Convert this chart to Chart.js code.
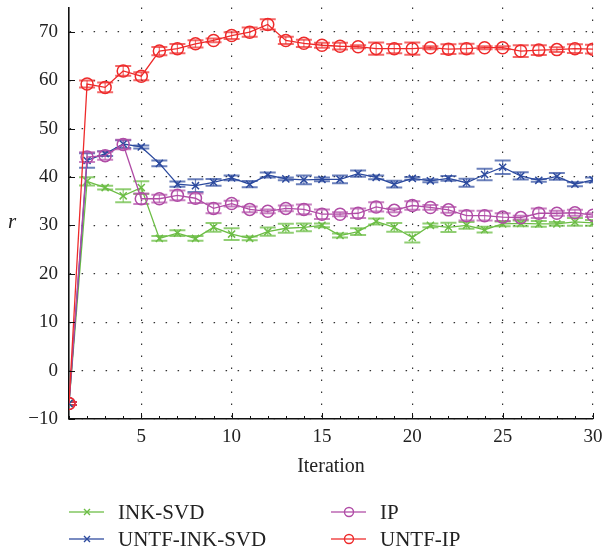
<!DOCTYPE html>
<html>
<head>
<meta charset="utf-8">
<script src="https://cdn.jsdelivr.net/npm/chart.js@4.4.0/dist/chart.umd.min.js"></script>
<style>
    body { margin: 0; background: #fff; }
    #wrap { position: relative; width: 602px; height: 554px; font-family: 'Liberation Serif', serif; color: #222; }
    #grafico { position: absolute; left: 0; top: 0; }
    #tituloY { position: absolute; left: 8px; top: 209px; font-style: italic; font-size: 21px; }
    .leg { position: absolute; display: flex; align-items: center; font-size: 21px; line-height: 24px; white-space: nowrap; }
    .leg svg { margin-right: 14px; }
</style>
</head>
<body>
<div id="wrap">
    <canvas id="grafico" width="602" height="554"></canvas>
    <span id="tituloY">r</span>
    <div id="legenda"></div>
</div>
<script>
var iteracoes = [1, 2, 3, 4, 5, 6, 7, 8, 9, 10, 11, 12, 13, 14, 15, 16, 17, 18, 19, 20, 21, 22, 23, 24, 25, 26, 27, 28, 29, 30];

var inkSvd = [-6.8, 39.1, 37.8, 36.1, 37.8, 27.3, 28.4, 27.3, 29.6, 28.2, 27.3, 28.7, 29.4, 29.6, 30.0,
              27.9, 28.7, 30.8, 29.6, 27.5, 30.0, 29.6, 30.0, 29.1, 30.3, 30.4, 30.3, 30.3, 30.7, 30.5];
var inkSvdErro = [0.3, 0.85, 0.4, 1.35, 1.3, 0.5, 0.6, 0.5, 0.9, 1.2, 0.4, 0.85, 0.95, 0.8, 0.4,
                  0.4, 0.7, 0.6, 0.9, 1.05, 0.4, 0.95, 0.7, 0.6, 0.5, 0.6, 0.6, 0.4, 0.8, 0.6];

var untfInkSvd = [-6.8, 43.4, 44.8, 46.8, 46.2, 42.8, 38.5, 38.2, 38.9, 39.8, 38.5, 40.4, 39.6, 39.4, 39.5,
                  39.5, 40.7, 39.9, 38.5, 39.7, 39.2, 39.7, 38.8, 40.5, 42.0, 40.2, 39.3, 40.1, 38.5, 39.4];
var untfInkSvdErro = [0.3, 1.5, 0.5, 0.8, 0.3, 0.6, 0.55, 1.3, 0.7, 0.5, 0.65, 0.5, 0.3, 0.9, 0.4,
                      0.8, 0.65, 0.4, 0.7, 0.3, 0.3, 0.5, 0.85, 1.2, 1.4, 0.75, 0.3, 0.7, 0.4, 0.5];

var ip = [-6.8, 44.1, 44.4, 46.7, 35.5, 35.5, 36.2, 35.6, 33.5, 34.5, 33.3, 32.9, 33.5, 33.3, 32.3,
          32.3, 32.5, 33.8, 33.1, 34.1, 33.7, 33.2, 32.0, 32.0, 31.7, 31.6, 32.5, 32.5, 32.6, 32.1];
var ipErro = [0.3, 1.0, 0.85, 1.0, 1.1, 0.8, 1.0, 1.0, 1.0, 0.6, 0.6, 0.4, 0.6, 1.0, 1.0,
              0.4, 1.0, 0.95, 0.4, 0.9, 0.5, 0.6, 1.0, 1.0, 0.8, 0.4, 1.0, 0.5, 0.6, 0.4];

var untfIp = [-6.8, 59.2, 58.5, 61.9, 60.8, 66.0, 66.5, 67.5, 68.2, 69.2, 69.9, 71.5, 68.2, 67.6, 67.2,
              67.0, 66.9, 66.5, 66.5, 66.5, 66.7, 66.4, 66.5, 66.7, 66.7, 66.0, 66.2, 66.3, 66.5, 66.4];
var untfIpErro = [0.3, 0.7, 1.0, 1.0, 0.85, 0.85, 0.95, 0.75, 0.4, 0.7, 0.95, 1.05, 0.75, 0.75, 0.5,
                  0.7, 0.3, 1.25, 0.95, 1.25, 0.3, 1.0, 1.0, 0.3, 0.3, 1.2, 1.0, 0.5, 0.9, 0.9];

var ticksX = [5, 10, 15, 20, 25, 30];
var ticksY = [-10, 0, 10, 20, 30, 40, 50, 60, 70];

function pontos(valores) {
    return iteracoes.map(function (it, i) { return { x: it, y: valores[i] }; });
}

function serie(nome, valores, erros, cor, corErro, marcador, raio) {
    return {
        label: nome,
        data: pontos(valores),
        erros: erros,
        corErro: corErro,
        borderColor: cor,
        borderWidth: 1.3,
        tension: 0,
        pointStyle: marcador,
        pointRadius: raio,
        pointHoverRadius: raio,
        pointBorderWidth: 1.5,
        pointBorderColor: cor,
        pointBackgroundColor: 'rgba(0,0,0,0)',
        fill: false
    };
}

var series = [
    serie('UNTF-IP', untfIp, untfIpErro, '#ee2a2a', 'rgba(238,42,42,0.7)', 'circle', 6),
    serie('IP', ip, ipErro, '#b04ca6', 'rgba(176,76,166,0.7)', 'circle', 6),
    serie('UNTF-INK-SVD', untfInkSvd, untfInkSvdErro, '#2c4a9e', 'rgba(44,74,158,0.7)', 'crossRot', 5),
    serie('INK-SVD', inkSvd, inkSvdErro, '#6cbd45', 'rgba(108,189,69,0.75)', 'crossRot', 5)
];

// barras de erro, desenhadas por baixo das linhas
var barrasErro = {
    id: 'barrasErro',
    beforeDatasetsDraw: function (chart) {
        var ctx = chart.ctx, area = chart.chartArea,
            sx = chart.scales.x, sy = chart.scales.y;
        ctx.save();
        ctx.beginPath();
        ctx.rect(area.left, area.top, area.right - area.left, area.bottom - area.top);
        ctx.clip();
        for (var d = chart.data.datasets.length - 1; d >= 0; d--) {
            var ds = chart.data.datasets[d];
            ctx.strokeStyle = ds.corErro;
            ds.data.forEach(function (p, i) {
                var px = sx.getPixelForValue(p.x),
                    topo = sy.getPixelForValue(p.y + ds.erros[i]),
                    base = sy.getPixelForValue(p.y - ds.erros[i]);
                ctx.lineWidth = 1.2;
                ctx.beginPath();
                ctx.moveTo(px, topo);
                ctx.lineTo(px, base);
                ctx.stroke();
                ctx.lineWidth = 2;
                ctx.beginPath();
                ctx.moveTo(px - 8, topo);
                ctx.lineTo(px + 8, topo);
                ctx.moveTo(px - 8, base);
                ctx.lineTo(px + 8, base);
                ctx.stroke();
            });
        }
        ctx.restore();
    }
};

// pequenos tracos nos eixos, para dentro
var tracosEixos = {
    id: 'tracosEixos',
    afterDraw: function (chart) {
        var ctx = chart.ctx, area = chart.chartArea,
            sx = chart.scales.x, sy = chart.scales.y;
        ctx.save();
        ctx.strokeStyle = '#111';
        ctx.lineWidth = 1;
        ctx.beginPath();
        iteracoes.forEach(function (it) {
            var px = Math.round(sx.getPixelForValue(it)) + 0.5,
                tam = ticksX.indexOf(it) >= 0 ? 6 : 3;
            ctx.moveTo(px, area.bottom);
            ctx.lineTo(px, area.bottom - tam);
        });
        ticksY.forEach(function (v) {
            var py = Math.round(sy.getPixelForValue(v)) + 0.5;
            ctx.moveTo(area.left, py);
            ctx.lineTo(area.left + 6, py);
        });
        ctx.stroke();
        ctx.restore();
    }
};

var fonteTicks = { family: "'Liberation Serif', serif", size: 19 };

function semPadding(scale) {
    scale.paddingTop = 0;
    scale.paddingBottom = 0;
    scale.paddingLeft = 0;
    scale.paddingRight = 0;
}

var grafico = new Chart(document.getElementById('grafico').getContext('2d'), {
    type: 'line',
    data: { datasets: series },
    options: {
        responsive: false,
        animation: false,
        devicePixelRatio: 1,
        layout: { padding: { left: 0, right: 9, top: 3, bottom: 75 } },
        plugins: { legend: { display: false }, tooltip: { enabled: false } },
        scales: {
            x: {
                type: 'linear',
                min: 1,
                max: 30,
                afterBuildTicks: function (scale) {
                    scale.ticks = ticksX.map(function (v) { return { value: v }; });
                },
                afterFit: function (scale) { scale.height = 60; semPadding(scale); },
                ticks: { font: fonteTicks, color: '#222', padding: 7, maxRotation: 0 },
                grid: { color: '#333', lineWidth: 1.2, drawTicks: false },
                border: { display: true, color: '#111', width: 1.6, dash: [1.5, 10.5] },
                title: {
                    display: true,
                    text: 'Iteration',
                    color: '#222',
                    font: { family: "'Liberation Serif', serif", size: 20 },
                    padding: { top: 0, bottom: 0 }
                }
            },
            y: {
                type: 'linear',
                min: -10,
                max: 75,
                afterBuildTicks: function (scale) {
                    scale.ticks = ticksY.map(function (v) { return { value: v }; });
                },
                afterFit: function (scale) { scale.width = 69; semPadding(scale); },
                ticks: {
                    font: fonteTicks,
                    color: '#222',
                    padding: 11,
                    callback: function (v) { return String(v).replace('-', '\u2212'); }
                },
                grid: { color: '#333', lineWidth: 1.2, drawTicks: false },
                border: { display: true, color: '#111', width: 1.6, dash: [1.5, 10.5] }
            }
        }
    },
    plugins: [barrasErro, tracosEixos]
});

// legenda em html, duas colunas como no original
var posLegenda = {
    'INK-SVD': [69, 500],
    'IP': [331, 500],
    'UNTF-INK-SVD': [69, 527],
    'UNTF-IP': [331, 527]
};

var $legenda = document.getElementById('legenda');
series.forEach(function (ds) {
    var pos = posLegenda[ds.label],
        cor = ds.borderColor,
        marca = ds.pointStyle === 'circle'
            ? '<circle cx="18" cy="8" r="4.5" fill="none" stroke="' + cor + '" stroke-width="1.4"/>'
            : '<path d="M15 5 L21 11 M21 5 L15 11" stroke="' + cor + '" stroke-width="1.4"/>';
    var item = document.createElement('div');
    item.className = 'leg';
    item.style.left = pos[0] + 'px';
    item.style.top = pos[1] + 'px';
    item.innerHTML = '<svg width="35" height="16"><line x1="0" y1="8" x2="35" y2="8" stroke="' + cor +
        '" stroke-width="1.6" opacity="0.85"/>' + marca + '</svg><span>' + ds.label + '</span>';
    $legenda.appendChild(item);
});
</script>
</body>
</html>
